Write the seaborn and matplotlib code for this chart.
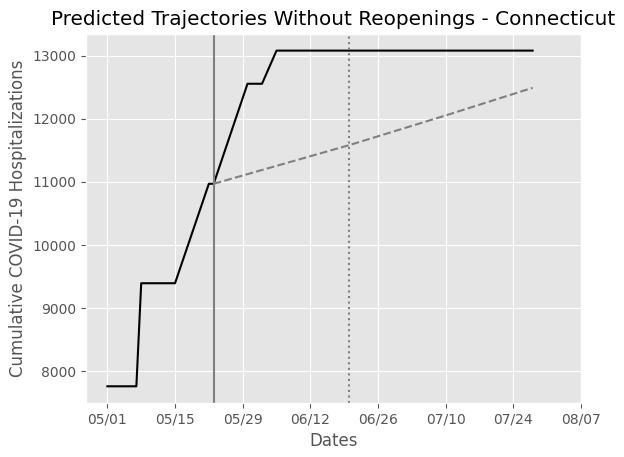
import pandas as pd
import matplotlib
matplotlib.use("Agg")
import matplotlib.pyplot as plt
import matplotlib.dates as mdates
import seaborn as sns

actual_dates = ['2020-05-01', '2020-05-07', '2020-05-08', '2020-05-15', '2020-05-22',
                '2020-05-23', '2020-05-30', '2020-06-02', '2020-06-05', '2020-07-28']
actual_values = [7763, 7763, 9395, 9395, 10970, 10970, 12554, 12554, 13079, 13079]

# Projection without reopenings
proj_dates = ['2020-05-23', '2020-06-20', '2020-07-10', '2020-07-28']
proj_values = [10970, 11581, 12052, 12490]

reopen_date = '2020-05-23'
marker_date = '2020-06-20'

tick_dates = ['2020-05-01', '2020-05-15', '2020-05-29', '2020-06-12',
              '2020-06-26', '2020-07-10', '2020-07-24', '2020-08-07']

actual = pd.DataFrame({'date': pd.to_datetime(actual_dates), 'value': actual_values})
proj = pd.DataFrame({'date': pd.to_datetime(proj_dates), 'value': proj_values})

plt.style.use('ggplot')
fig = plt.figure(figsize=(6.24, 4.57), dpi=100)
ax = fig.add_axes([0.138, 0.118, 0.793, 0.808])

sns.lineplot(data=actual, x='date', y='value', color='black', ax=ax)
sns.lineplot(data=proj, x='date', y='value', color='gray', linestyle='--', ax=ax)
ax.axvline(pd.Timestamp(reopen_date), color='gray')
ax.axvline(pd.Timestamp(marker_date), color='gray', linestyle=':')

ax.set_xticks(pd.to_datetime(tick_dates))
ax.xaxis.set_major_formatter(mdates.DateFormatter('%m/%d'))
ax.set_xlim(pd.Timestamp('2020-05-01') - pd.Timedelta(days=4.4), pd.Timestamp('2020-08-07'))

ax.set_title('Predicted Trajectories Without Reopenings - Connecticut')
ax.set_xlabel('Dates')
ax.set_ylabel('Cumulative COVID-19 Hospitalizations')

fig.savefig('out.png', dpi=100)
